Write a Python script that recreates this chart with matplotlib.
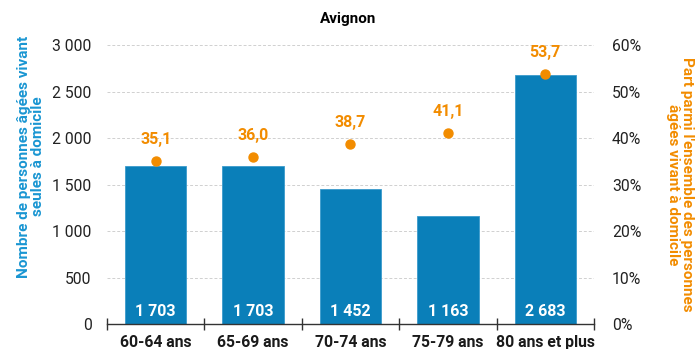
import numpy as np
import matplotlib.pyplot as plt
import matplotlib as mpl
from matplotlib.ticker import FuncFormatter

settings = {"font.family": ["Roboto", "DejaVu Sans"],
            "font.size": 11}
mpl.rcParams.update(settings)

# donnees
categories = ["60-64 ans", "65-69 ans", "70-74 ans", "75-79 ans", "80 ans et plus"]
nombre = [1703, 1703, 1452, 1163, 2683]
part = [35.1, 36.0, 38.7, 41.1, 53.7]

bleu = "#0a7fb9"
bleu_label = "#1a96d2"
orange = "#f28c00"

fig = plt.figure(figsize=(6.96, 3.49), dpi=100)
ax = fig.add_axes([0.1537, 0.0716, 0.6997, 0.7994])
ax2 = ax.twinx()

x = np.arange(len(categories))
ax.bar(x, nombre, width=0.63, color=bleu, edgecolor="#3a9bcc", linewidth=0.6, zorder=2)

def espace(v, pos=None):
    return f"{int(v):,}".replace(",", " ")

for xi, v in zip(x, nombre):
    ax.text(xi, 135, espace(v), ha="center", va="center", color="white",
            fontsize=11.5, fontweight="bold", zorder=3)

ax.set_xlim(-0.5, len(categories) - 0.5)
ax.set_ylim(0, 3000)
ax.set_yticks(np.arange(0, 3001, 500))
ax.yaxis.set_major_formatter(FuncFormatter(espace))
ax.grid(axis="y", color="#d0d0d0", linestyle=(0, (3, 2)), linewidth=0.7, zorder=0)
ax.set_axisbelow(True)

ax.set_xticks(x)
ax.set_xticklabels(categories, fontweight="bold", fontsize=11.3, color="#1a1a1a")
ax.set_xticks(np.arange(-0.5, len(categories)), minor=True)
ax.tick_params(axis="x", which="major", length=0, pad=8)
ax.tick_params(axis="x", which="minor", length=8, direction="inout", color="#333333", width=1)
ax.tick_params(axis="y", length=0, pad=11, labelsize=11.3, labelcolor="#222222")

for s in ["top", "right", "left"]:
    ax.spines[s].set_visible(False)
    ax2.spines[s].set_visible(False)
ax2.spines["bottom"].set_visible(False)
ax.spines["bottom"].set_color("#333333")
ax.spines["bottom"].set_linewidth(1)

ax.set_ylabel("Nombre de personnes âgées vivant\nseules à domicile", color=bleu_label,
              fontweight="bold", fontsize=11, linespacing=1.0)
ax.yaxis.set_label_coords(-0.128, 0.6)

ax2.scatter(x, part, s=42, color=orange, zorder=4, clip_on=False)
for xi, p in zip(x, part):
    ax2.text(xi, p + 3.0, f"{p:.1f}".replace(".", ","), ha="center", va="bottom",
             color=orange, fontsize=11.5, fontweight="bold")
ax2.set_ylim(0, 60)
ax2.set_yticks(np.arange(0, 61, 10))
ax2.yaxis.set_major_formatter(FuncFormatter(lambda v, pos: f"{int(v)}%"))
ax2.tick_params(axis="y", length=0, pad=13, labelsize=11.3, labelcolor="#222222")
ax2.set_ylabel("Part parmi l'ensemble des personnes\nâgées vivant à domicile", color=orange,
               fontweight="bold", fontsize=11, rotation=-90, labelpad=38, linespacing=1.0)

fig.text(0.5, 0.945, "Avignon", ha="center", va="center", fontweight="bold", fontsize=11)

plt.savefig("out.png", dpi=100)
